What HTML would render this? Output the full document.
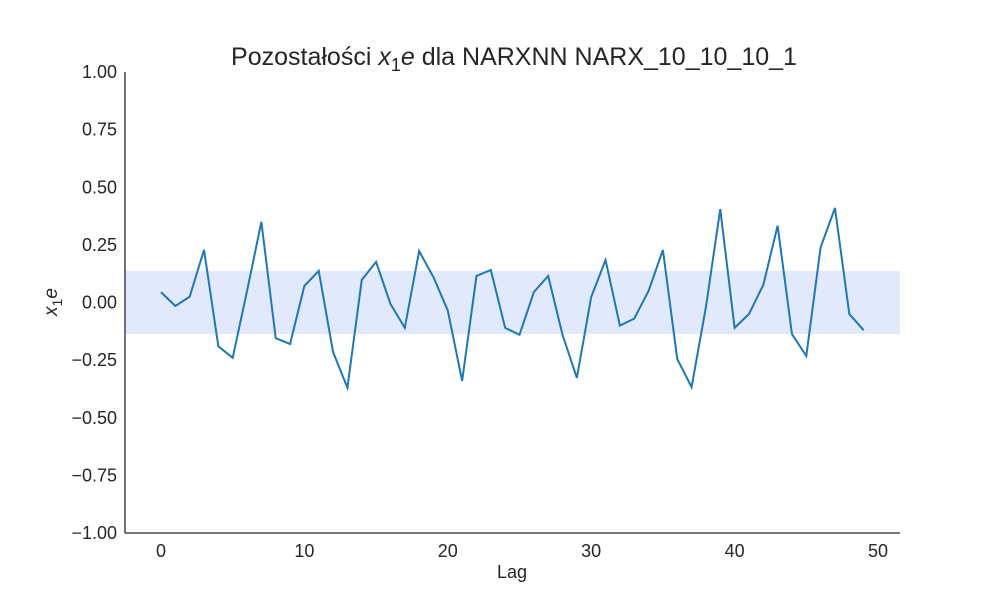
<!DOCTYPE html>
<html><head><meta charset="utf-8"><style>
body{margin:0;background:#fff;}
svg text{font-family:"Liberation Sans","DejaVu Sans",sans-serif;fill:#262626;}
</style></head><body>
<svg id="chart" width="1000" height="600" xmlns="http://www.w3.org/2000/svg">
<rect width="1000" height="600" fill="#fff"/>
<g id="plot"></g>
<text x="514" y="65" text-anchor="middle" font-size="25">Pozostałości <tspan font-style="italic">x</tspan><tspan font-size="18" dy="6">1</tspan><tspan font-style="italic" dy="-6">e</tspan> dla NARXNN NARX_10_10_10_1</text>
<text x="512" y="578" text-anchor="middle" font-size="18">Lag</text>
<text transform="translate(57,302) rotate(-90)" text-anchor="middle" font-size="19"><tspan font-style="italic">x</tspan><tspan font-size="14" dy="5">1</tspan><tspan font-style="italic" dy="-5">e</tspan></text>
</svg>
<script>
const lags=[...Array(50).keys()];
const residuals=[0.045,-0.015,0.025,0.228,-0.19,-0.24,0.05,0.35,-0.155,-0.18,0.072,0.137,-0.215,-0.37,0.098,0.176,-0.006,-0.11,0.223,0.11,-0.035,-0.34,0.115,0.141,-0.11,-0.14,0.045,0.115,-0.14,-0.327,0.024,0.184,-0.1,-0.07,0.05,0.228,-0.245,-0.367,-0.02,0.405,-0.11,-0.05,0.076,0.333,-0.137,-0.232,0.24,0.41,-0.05,-0.12];
const bandLimit=0.137;
const yTicks=[-1,-0.75,-0.5,-0.25,0,0.25,0.5,0.75,1];
const xTicks=[0,10,20,30,40,50];
const NS="http://www.w3.org/2000/svg";
const X0=125,X1=900,Y0=72,Y1=533;
const xs=v=>161+(v-0)*(878-161)/50;
const ys=v=>Y1-(v+1)/2*(Y1-Y0);
const g=document.getElementById('plot');
function mk(t,a){const e=document.createElementNS(NS,t);for(const k in a)e.setAttribute(k,a[k]);g.appendChild(e);return e;}
const band=mk('rect',{x:X0,y:ys(bandLimit),width:X1-X0,height:ys(-bandLimit)-ys(bandLimit),fill:'#e2e9fc'});


const line=mk('polyline',{points:lags.map((l,i)=>xs(l)+','+ys(residuals[i])).join(' '),fill:'none',stroke:'#1f77b4','stroke-width':2});


const ya=mk('line',{x1:X0,y1:Y0,x2:X0,y2:Y1,stroke:'#262626','stroke-width':1.3});


const xa=mk('line',{x1:X0,y1:Y1,x2:X1,y2:Y1,stroke:'#262626','stroke-width':1.3});


yTicks.forEach(v=>{const t=mk('text',{x:X0-8,y:ys(v)+6,'text-anchor':'end','font-size':18});t.textContent=(v<0?'\u2212':'')+Math.abs(v).toFixed(2);

});
xTicks.forEach(v=>{const t=mk('text',{x:xs(v),y:Y1+24,'text-anchor':'middle','font-size':18});t.textContent=v;

});
</script>
</body></html>
